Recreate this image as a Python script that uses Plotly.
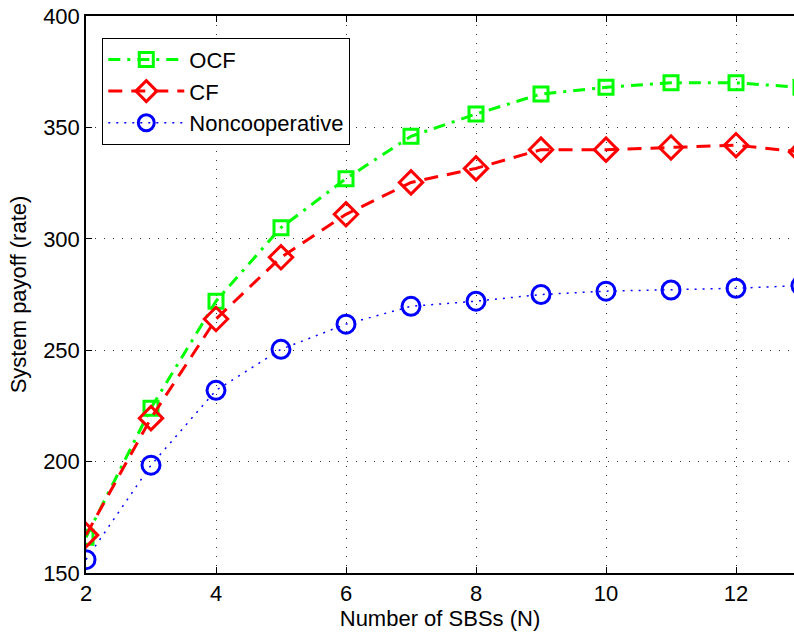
import plotly.graph_objects as go

x_vals = [2, 3, 4, 5, 6, 7, 8, 9, 10, 11, 12, 13]
ocf = [166, 224, 272, 305, 327, 346, 356, 365, 368, 370, 370, 368]
cf = [167, 219.5, 264, 291.7, 311, 325.3, 331.6, 340, 340, 341, 342, 339]
noncoop = [156, 198.4, 232, 250.4, 261.7, 269.7, 272, 275, 276.5, 277, 277.8, 279]
x_ticks = [2, 4, 6, 8, 10, 12]
y_ticks = [150, 200, 250, 300, 350, 400]

FONT = "Liberation Sans, Arial, sans-serif"

fig = go.Figure()
fig.add_trace(go.Scatter(
    x=x_vals, y=ocf, name="OCF", mode="lines+markers",
    line=dict(color="#00ff00", width=3, dash="12px,7px,3px,7px"),
    marker=dict(symbol="square-open", size=14, color="#00ff00", line=dict(width=3, color="#00ff00")),
))
fig.add_trace(go.Scatter(
    x=x_vals, y=cf, name="CF", mode="lines+markers",
    line=dict(color="#ff0000", width=3, dash="14px,9px"),
    marker=dict(symbol="diamond-open", size=18, color="#ff0000", line=dict(width=3, color="#ff0000")),
))
fig.add_trace(go.Scatter(
    x=x_vals, y=noncoop, name="Noncooperative", mode="lines+markers",
    line=dict(color="#0000ff", width=1.5, dash="2px,6px"),
    marker=dict(symbol="circle-open", size=18, color="#0000ff", line=dict(width=3, color="#0000ff")),
))

fig.update_layout(
    width=794, height=632,
    margin=dict(l=86, r=0, t=16, b=59),
    paper_bgcolor="white", plot_bgcolor="white",
    font=dict(family=FONT, size=22, color="black"),
    showlegend=True,
    legend=dict(
        x=0.023, y=0.961, xanchor="left", yanchor="top",
        bgcolor="white", bordercolor="black", borderwidth=1,
        font=dict(family=FONT, size=22, color="black"),
        tracegroupgap=0, itemwidth=76,
    ),
)
fig.update_xaxes(
    range=[2, 2 + 708 / 65], tickvals=x_ticks, ticktext=[str(v) for v in x_ticks],
    showline=True, linecolor="black", linewidth=1.5, mirror="ticks",
    ticks="inside", ticklen=6, tickcolor="black",
    showgrid=True, gridcolor="#333333", griddash="1px,8px", gridwidth=1,
    zeroline=False,
    title=dict(text="Number of SBSs (N)", font=dict(size=22), standoff=2),
    tickfont=dict(size=22),
)
fig.update_yaxes(
    range=[150, 400], tickvals=y_ticks, ticktext=[str(v) for v in y_ticks],
    showline=True, linecolor="black", linewidth=1.5, mirror=False,
    ticks="inside", ticklen=6, tickcolor="black",
    showgrid=True, gridcolor="#333333", griddash="1px,8px", gridwidth=1,
    zeroline=False,
    title=dict(text="System payoff (rate)", font=dict(size=22), standoff=10),
    tickfont=dict(size=22),
)

fig.write_html("out.html", config={"displayModeBar": False},
               post_script="document.body.style.margin='0';")
